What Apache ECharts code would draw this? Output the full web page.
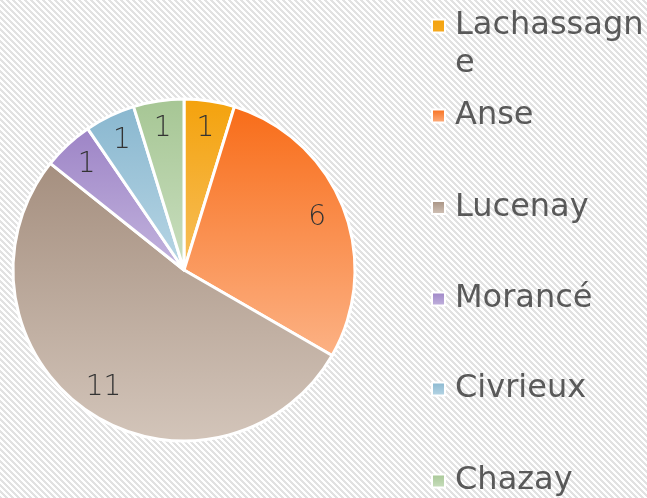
<!DOCTYPE html>
<html>
<head>
<meta charset="utf-8">
<script src="https://cdn.jsdelivr.net/npm/echarts@6/dist/echarts.min.js"></script>
<style>
  html, body { margin: 0; padding: 0; background: #fff; }
  #chart { width: 647px; height: 498px; }
</style>
</head>
<body>
<div id="chart"></div>
<script>
// Villages and their counts
const categories = ['Lachassagne', 'Anse', 'Lucenay', 'Morancé', 'Civrieux', 'Chazay'];
const values = [1, 6, 11, 1, 1, 1];

// Gradient stops per slice (top -> bottom)
const topColors = ['#f4a20c', '#f86c18', '#a58f7f', '#9d84c6', '#89b7cf', '#a6c694'];
const bottomColors = ['#f7bf5c', '#fcb285', '#d3c5ba', '#c3b4de', '#b8d6e5', '#cadfc0'];

// Vertical centre of each legend entry
const legendCenters = [26, 116, 207.5, 299, 389, 481];

const FONT = 'DejaVu Sans';
const LINE = 38;
const MARK = 13;

function gradient(i) {
  return new echarts.graphic.LinearGradient(0, 0, 0, 1, [
    { offset: 0, color: topColors[i] },
    { offset: 1, color: bottomColors[i] }
  ]);
}

// Diagonal hatch tile for the chart background
function hatchTile() {
  const n = 6;
  const c = document.createElement('canvas');
  c.width = n; c.height = n;
  const ctx = c.getContext('2d');
  ctx.fillStyle = '#ffffff';
  ctx.fillRect(0, 0, n, n);
  ctx.fillStyle = '#e2e2e2';
  for (let y = 0; y < n; y++) {
    for (let x = 0; x < n; x++) {
      if ((((x - y) % n) + n) % n < 3) ctx.fillRect(x, y, 1, 1);
    }
  }
  return c;
}

const pieData = categories.map((name, i) => ({
  name: name,
  value: values[i],
  itemStyle: { color: gradient(i) }
}));

const labelData = categories.map((name, i) => ({ name: name, value: values[i] }));

// One legend block per entry; a wrapped name keeps its square beside the first line
const legends = categories.map((name, i) => {
  const wrapped = i === 0;
  const boxH = wrapped ? MARK + LINE : MARK;
  return {
    data: [name],
    orient: 'vertical',
    left: 431,
    top: legendCenters[i] - LINE / 2,
    padding: 0,
    icon: wrapped ? 'path://M0,0h13v13h-13zM0,' + boxH : 'rect',
    itemWidth: MARK,
    itemHeight: boxH,
    selectedMode: false,
    textStyle: {
      fontFamily: FONT,
      fontSize: 32,
      color: '#595959',
      lineHeight: LINE,
      width: 192,
      overflow: 'breakAll',
      padding: [0, 0, 0, 5]
    }
  };
});

const chart = echarts.init(document.getElementById('chart'), null, { renderer: 'canvas' });
chart.setOption({
  animation: false,
  backgroundColor: { image: hatchTile(), repeat: 'repeat' },
  legend: legends,
  series: [
    {
      type: 'pie',
      center: [184, 270],
      radius: [0, 171],
      startAngle: 90,
      clockwise: true,
      silent: true,
      label: { show: false },
      labelLine: { show: false },
      itemStyle: { borderColor: '#ffffff', borderWidth: 3 },
      data: pieData
    },
    {
      type: 'pie',
      center: [184, 270],
      radius: [109, 171],
      startAngle: 90,
      clockwise: true,
      silent: true,
      itemStyle: { color: 'rgba(0,0,0,0)' },
      label: {
        show: true,
        position: 'inside',
        formatter: '{c}',
        fontFamily: FONT,
        fontSize: 28,
        fontWeight: 300,
        color: '#333333'
      },
      labelLine: { show: false },
      data: labelData
    }
  ]
});
</script>
</body>
</html>
